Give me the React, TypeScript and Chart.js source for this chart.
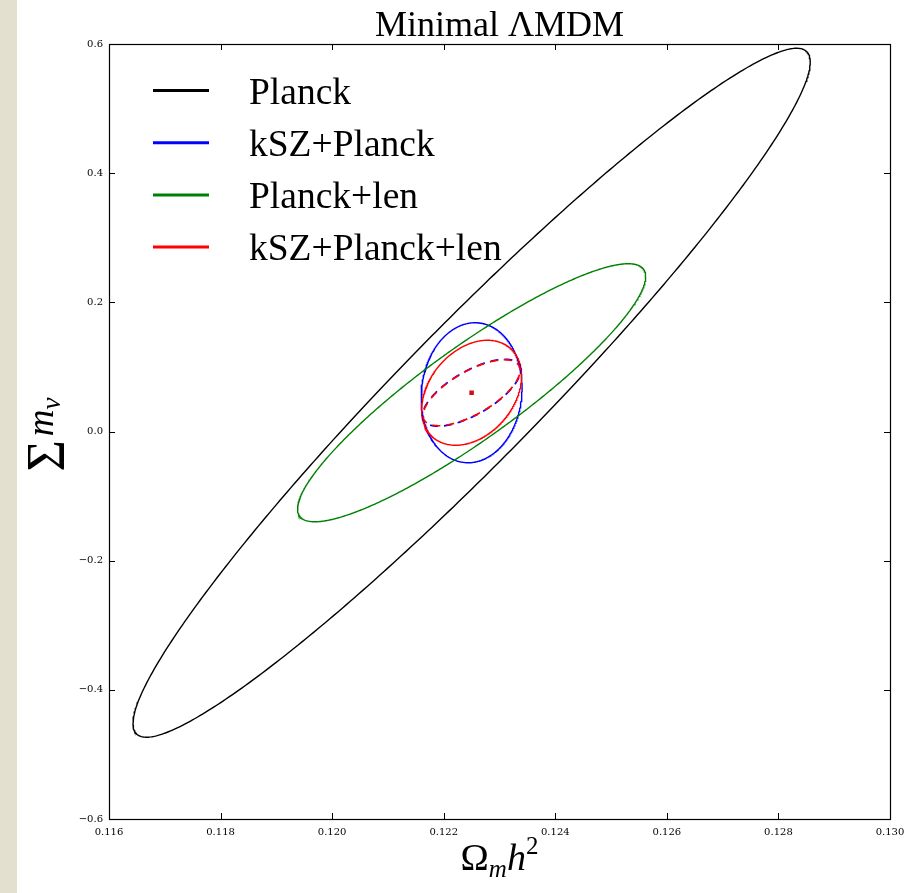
import React, { useEffect, useRef } from 'react';
import { Chart, registerables } from 'chart.js';

Chart.register(...registerables);

// Fisher-forecast 68% contours in the (Omega_m h^2, sum m_nu) plane
const seriesNames = ['Planck', 'kSZ+Planck', 'Planck+len', 'kSZ+Planck+len'];
const seriesColors = ['#000000', '#0000ff', '#008000', '#ff0000'];
const fiducialOmh2 = 0.1225;
const fiducialMnu = 0.06;
const halfWidthOmh2 = [0.00607, 0.000905, 0.00312, 0.000896];
const halfHeightMnu = [0.5334, 0.1084, 0.1998, 0.0813];
const correlation = [0.96, 0.07, 0.9, 0.32];

// dashed inner contours for kSZ+Planck and kSZ+Planck+len
const innerColors = ['#0000ff', '#ff0000'];
const innerHalfWidth = [0.00088, 0.000869];
const innerHalfHeight = [0.0518, 0.0511];
const innerCorrelation = [0.68, 0.68];

const xTicks = [0.116, 0.118, 0.12, 0.122, 0.124, 0.126, 0.128, 0.13];
const yTicks = [-0.6, -0.4, -0.2, 0.0, 0.2, 0.4, 0.6];

const SERIF = '"Liberation Serif", "DejaVu Serif", serif';

// Contour of a correlated Gaussian: x extent hx, y extent hy, correlation rho
function contour(hx: number, hy: number, rho: number) {
  const pts: { x: number; y: number }[] = [];
  const n = 480;
  const s = Math.sqrt(1 - rho * rho);
  for (let i = 0; i <= n; i++) {
    const t = (2 * Math.PI * i) / n;
    pts.push({
      x: fiducialOmh2 + hx * Math.cos(t),
      y: fiducialMnu + hy * (rho * Math.cos(t) + s * Math.sin(t)),
    });
  }
  return pts;
}

function fmtY(v: number) {
  if (Math.abs(v) < 1e-9) return '0.0';
  const s = Math.abs(v).toFixed(1);
  return v < 0 ? '\u2212' + s : s;
}

const decorPlugin = {
  id: 'decor',
  afterDraw(chart: any) {
    const ctx = chart.ctx as CanvasRenderingContext2D;
    const { left, right, top, bottom } = chart.chartArea;
    const xs = chart.scales.x;
    const ys = chart.scales.y;
    ctx.save();

    // inward tick marks on all four sides
    ctx.strokeStyle = '#000';
    ctx.lineWidth = 1;
    const tl = 6;
    ctx.beginPath();
    xTicks.forEach((v) => {
      const px = Math.round(xs.getPixelForValue(v)) + 0.5;
      ctx.moveTo(px, bottom);
      ctx.lineTo(px, bottom - tl);
      ctx.moveTo(px, top);
      ctx.lineTo(px, top + tl);
    });
    yTicks.forEach((v) => {
      const py = Math.round(ys.getPixelForValue(v)) + 0.5;
      ctx.moveTo(left, py);
      ctx.lineTo(left + tl, py);
      ctx.moveTo(right, py);
      ctx.lineTo(right - tl, py);
    });
    ctx.stroke();

    // frame
    ctx.lineWidth = 1.2;
    ctx.strokeRect(Math.round(left) + 0.5, Math.round(top) + 0.5, Math.round(right - left), Math.round(bottom - top));

    // title
    ctx.fillStyle = '#000';
    ctx.font = `36px ${SERIF}`;
    ctx.textAlign = 'center';
    ctx.textBaseline = 'alphabetic';
    ctx.fillText('Minimal \u039BMDM', (left + right) / 2, 36);

    // legend
    ctx.textAlign = 'left';
    seriesNames.forEach((name, i) => {
      const ly = 90.5 + 52.2 * i;
      ctx.strokeStyle = seriesColors[i];
      ctx.lineWidth = 3;
      ctx.beginPath();
      ctx.moveTo(153, ly);
      ctx.lineTo(209, ly);
      ctx.stroke();
      ctx.fillStyle = '#000';
      ctx.font = `37.5px ${SERIF}`;
      ctx.fillText(name, 249, 104 + 52 * i);
    });

    // x-axis label: Omega_m h^2
    const xParts = [
      { t: '\u03A9', f: `38px ${SERIF}`, dy: 0 },
      { t: 'm', f: `italic 25px ${SERIF}`, dy: 7 },
      { t: 'h', f: `italic 38px ${SERIF}`, dy: 0 },
      { t: '2', f: `25px ${SERIF}`, dy: -16 },
    ];
    let total = 0;
    xParts.forEach((p) => {
      ctx.font = p.f;
      total += ctx.measureText(p.t).width;
    });
    let cx = (left + right) / 2 - total / 2;
    xParts.forEach((p) => {
      ctx.font = p.f;
      ctx.fillText(p.t, cx, 870 + p.dy);
      cx += ctx.measureText(p.t).width;
    });

    // y-axis label: sum m_nu
    ctx.translate(53, (top + bottom) / 2);
    ctx.rotate(-Math.PI / 2);
    const yParts = [
      { t: '\u03A3', f: `54px ${SERIF}`, dy: 11, gap: 4 },
      { t: 'm', f: `italic 37px ${SERIF}`, dy: 0, gap: 0 },
      { t: '\u03BD', f: `italic 27px ${SERIF}`, dy: 7, gap: 0 },
    ];
    total = 0;
    yParts.forEach((p) => {
      ctx.font = p.f;
      total += ctx.measureText(p.t).width + p.gap;
    });
    let cy = -total / 2 - 3;
    yParts.forEach((p) => {
      ctx.font = p.f;
      ctx.fillText(p.t, cy, p.dy);
      cy += ctx.measureText(p.t).width + p.gap;
    });

    ctx.restore();
  },
};

export default function App() {
  const canvasRef = useRef<HTMLCanvasElement | null>(null);

  useEffect(() => {
    const canvas = canvasRef.current;
    if (!canvas) return;

    const solid = seriesNames.map((name, i) => ({
      label: name,
      data: contour(halfWidthOmh2[i], halfHeightMnu[i], correlation[i]),
      borderColor: seriesColors[i],
      backgroundColor: seriesColors[i],
      borderWidth: 1.4,
      showLine: true,
      pointRadius: 0,
      tension: 0,
      order: 10 - i,
    }));
    const dashed = innerColors.map((c, i) => ({
      label: seriesNames[2 * i + 1] + ' (inner)',
      data: contour(innerHalfWidth[i], innerHalfHeight[i], innerCorrelation[i]),
      borderColor: c,
      backgroundColor: c,
      borderWidth: 1.7,
      borderDash: [8, 6],
      showLine: true,
      pointRadius: 0,
      tension: 0,
      order: 3 - i,
    }));
    const centre = {
      label: 'fiducial',
      data: [{ x: fiducialOmh2, y: fiducialMnu }],
      borderColor: '#d01010',
      backgroundColor: '#d01010',
      pointStyle: 'rect',
      pointRadius: 3.2,
      borderWidth: 0,
      showLine: false,
      order: 0,
    };

    const chart = new Chart(canvas, {
      type: 'scatter',
      data: { datasets: [...solid, ...dashed, centre] as any },
      plugins: [decorPlugin],
      options: {
        responsive: false,
        animation: false,
        layout: { padding: { top: 44, right: 24, left: 0, bottom: 0 } },
        plugins: {
          legend: { display: false },
          title: { display: false },
          tooltip: { enabled: false },
        },
        scales: {
          x: {
            type: 'linear',
            min: 0.116,
            max: 0.13,
            grid: { display: false, drawTicks: false },
            border: { display: false },
            afterBuildTicks: (s: any) => {
              s.ticks = xTicks.map((v) => ({ value: v }));
            },
            afterFit: (s: any) => {
              s.height = 74;
            },
            ticks: {
              padding: 7,
              maxRotation: 0,
              autoSkip: false,
              color: '#000',
              font: { family: 'DejaVu Serif', size: 10 },
              callback: (v: any) => Number(v).toFixed(3),
            },
          },
          y: {
            type: 'linear',
            min: -0.6,
            max: 0.6,
            grid: { display: false, drawTicks: false },
            border: { display: false },
            afterBuildTicks: (s: any) => {
              s.ticks = yTicks.map((v) => ({ value: v }));
            },
            afterFit: (s: any) => {
              s.width = 109;
            },
            ticks: {
              padding: 6,
              autoSkip: false,
              color: '#000',
              font: { family: 'DejaVu Serif', size: 10 },
              callback: (v: any) => fmtY(Number(v)),
            },
          },
        },
      } as any,
    });

    return () => chart.destroy();
  }, []);

  return (
    <div style={{ position: 'absolute', left: 0, top: 0, width: 914, height: 893, background: '#fff' }}>
      <div style={{ position: 'absolute', left: 0, top: 0, width: 17, height: 893, background: '#e3e0cf' }} />
      <canvas
        ref={canvasRef}
        width={914}
        height={893}
        style={{ position: 'absolute', left: 0, top: 0, width: 914, height: 893 }}
      />
    </div>
  );
}
